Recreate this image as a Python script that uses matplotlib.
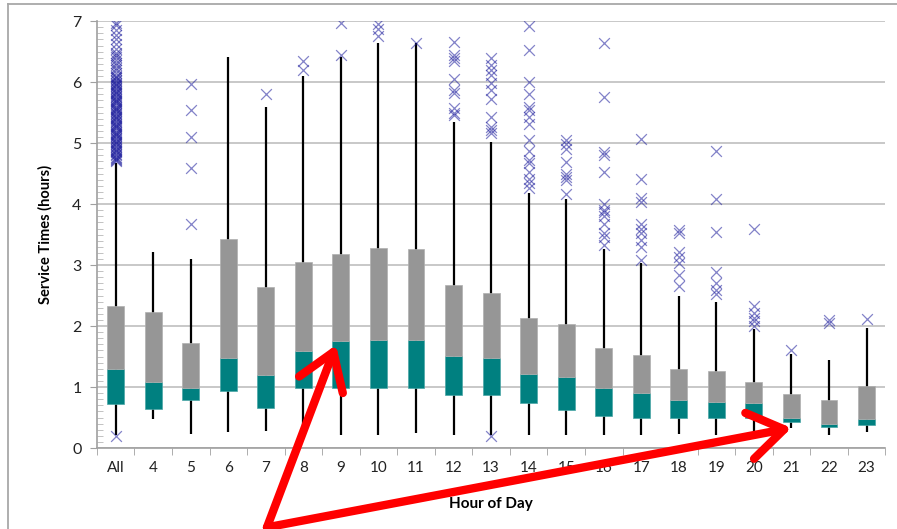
import matplotlib
matplotlib.use("Agg")
import matplotlib.pyplot as plt
import numpy as np
from matplotlib.lines import Line2D

plt.rcParams['font.family'] = ['Lato', 'DejaVu Sans']

hours = ["All", "4", "5", "6", "7", "8", "9", "10", "11", "12", "13", "14",
         "15", "16", "17", "18", "19", "20", "21", "22", "23"]
whisker_low = [0.21, 0.48, 0.23, 0.26, 0.28, 0.24, 0.21, 0.21, 0.24, 0.21, 0.21,
               0.21, 0.21, 0.21, 0.21, 0.23, 0.21, 0.24, 0.33, 0.21, 0.27]
q1 = [0.72, 0.64, 0.79, 0.94, 0.66, 0.99, 0.99, 0.99, 0.99, 0.87, 0.87,
      0.74, 0.62, 0.53, 0.50, 0.50, 0.50, 0.49, 0.42, 0.34, 0.37]
median = [1.30, 1.08, 0.99, 1.48, 1.19, 1.59, 1.75, 1.78, 1.78, 1.51, 1.48,
          1.22, 1.16, 0.99, 0.91, 0.79, 0.76, 0.74, 0.50, 0.39, 0.48]
q3 = [2.33, 2.23, 1.72, 3.42, 2.64, 3.05, 3.18, 3.28, 3.26, 2.67, 2.54,
      2.13, 2.03, 1.64, 1.52, 1.30, 1.27, 1.08, 0.89, 0.79, 1.02]
whisker_high = [4.67, 3.21, 3.10, 6.41, 5.60, 6.10, 6.41, 6.64, 6.64, 5.35, 5.02,
                4.18, 4.08, 3.27, 3.03, 2.49, 2.40, 1.96, 1.55, 1.44, 1.97]
outliers = [
    [0.20, 4.70, 4.72, 4.74, 4.76, 4.78, 4.80, 4.82, 4.85, 4.87, 4.89, 4.91,
     4.93, 4.95, 4.98, 5.00, 5.02, 5.04, 5.06, 5.08, 5.11, 5.13, 5.15, 5.17,
     5.19, 5.21, 5.24, 5.26, 5.28, 5.30, 5.32, 5.34, 5.37, 5.39, 5.41, 5.43,
     5.45, 5.47, 5.50, 5.52, 5.54, 5.56, 5.58, 5.60, 5.63, 5.65, 5.67, 5.69,
     5.71, 5.73, 5.76, 5.78, 5.80, 5.82, 5.84, 5.86, 5.89, 5.91, 5.93, 5.95,
     5.97, 5.99, 6.02, 6.04, 6.06, 6.08, 6.10, 6.15, 6.20, 6.24, 6.28, 6.32,
     6.36, 6.41, 6.44, 6.48, 6.55, 6.62, 6.70, 6.78, 6.86, 6.93, 6.97],
    [],
    [3.68, 4.60, 5.10, 5.54, 5.97],
    [],
    [5.80],
    [6.20, 6.34],
    [6.44, 6.97],
    [6.75, 6.87, 6.95],
    [6.65],
    [5.46, 5.49, 5.57, 5.82, 5.87, 6.05, 6.35, 6.39, 6.45, 6.66],
    [0.20, 5.16, 5.21, 5.27, 5.43, 5.73, 5.87, 5.98, 6.11, 6.20, 6.28, 6.39],
    [4.26, 4.34, 4.42, 4.53, 4.67, 4.72, 4.87, 5.05, 5.32, 5.43, 5.54, 5.60,
     5.80, 6.00, 6.52, 6.92],
    [4.17, 4.39, 4.45, 4.50, 4.69, 4.91, 4.98, 5.05],
    [3.33, 3.46, 3.52, 3.68, 3.81, 3.87, 3.91, 4.00, 4.53, 4.80, 4.86, 5.75, 6.65],
    [3.08, 3.30, 3.41, 3.52, 3.60, 3.68, 4.04, 4.10, 4.42, 5.06],
    [2.65, 2.84, 3.03, 3.14, 3.22, 3.52, 3.57],
    [2.53, 2.59, 2.70, 2.89, 3.54, 4.08, 4.87],
    [2.00, 2.08, 2.14, 2.22, 2.33, 3.59],
    [1.61],
    [2.05, 2.10],
    [2.11],
]

fig = plt.figure(figsize=(8.97, 5.29), dpi=100)
ax = fig.add_axes([0.108, 0.153, 0.879, 0.807])

x = np.arange(len(hours))
w = 0.45

# whiskers behind the boxes
ax.vlines(x, whisker_low, whisker_high, color='black', lw=1.6, zorder=2)
ax.bar(x, np.subtract(median, q1), bottom=q1, width=w, color='#008080',
       edgecolor='#4aa6a6', lw=0.5, zorder=3)
ax.bar(x, np.subtract(q3, median), bottom=median, width=w, color='#969696',
       edgecolor='#b0b0b0', lw=0.5, zorder=3)

for i, vals in enumerate(outliers):
    if vals:
        ax.scatter([x[i]] * len(vals), vals, marker='x', s=60, lw=0.9,
                   color='#1c1c9c', alpha=0.55, zorder=4)

ax.set_xlim(-0.5, len(hours) - 0.5)
ax.set_ylim(0, 7)
ax.set_yticks(range(0, 8))
ax.set_yticks(np.arange(0, 7.01, 0.1), minor=True)
ax.set_xticks(x)
ax.set_xticklabels(hours)
ax.set_xticks(np.arange(-0.5, len(hours)), minor=True)

ax.tick_params(axis='x', which='major', length=0, pad=9, labelsize=11,
               colors='#222222')
ax.tick_params(axis='x', which='minor', length=5, direction='out', color='#a0a0a0')
ax.tick_params(axis='y', which='major', length=5, direction='out', color='#a0a0a0',
               labelsize=11.5, labelcolor='#222222', pad=6)
ax.tick_params(axis='y', which='minor', length=4, direction='in', color='#b8b8b8')

ax.yaxis.grid(True, which='major', color='#c4c4c4', lw=1.3)
ax.set_axisbelow(True)
for s in ['top', 'right']:
    ax.spines[s].set_visible(False)
for s in ['left', 'bottom']:
    ax.spines[s].set_color('#a0a0a0')
    ax.spines[s].set_linewidth(1.2)

ax.set_ylabel("Service Times (hours)", fontsize=10.5, fontweight='bold')
ax.yaxis.set_label_coords(-0.056, 0.5)
ax.set_xlabel("Hour of Day", fontsize=11, fontweight='bold')
ax.xaxis.set_label_coords(0.5, -0.115)

# red arrows pointing at hour 9 and hour 21
arrow_kw = dict(arrowstyle='->, head_length=0.6, head_width=0.4',
                color='#ff0000', lw=6, mutation_scale=42,
                shrinkA=0, shrinkB=0)
tail = (4.03, -1.30)
ax.annotate("", xy=(5.87, 1.69), xytext=tail, xycoords='data',
            arrowprops=arrow_kw, annotation_clip=False, zorder=6)
ax.annotate("", xy=(18.0, 0.33), xytext=tail, xycoords='data',
            arrowprops=arrow_kw, annotation_clip=False, zorder=6)

# outer chart frame
fig.add_artist(Line2D([8 / 897, 1], [1 - 4 / 529, 1 - 4 / 529],
                      transform=fig.transFigure, color='#a8a8a8', lw=1.3))
fig.add_artist(Line2D([8 / 897, 8 / 897], [0, 1 - 4 / 529],
                      transform=fig.transFigure, color='#a8a8a8', lw=1.3))

fig.savefig("out.png", dpi=100)
